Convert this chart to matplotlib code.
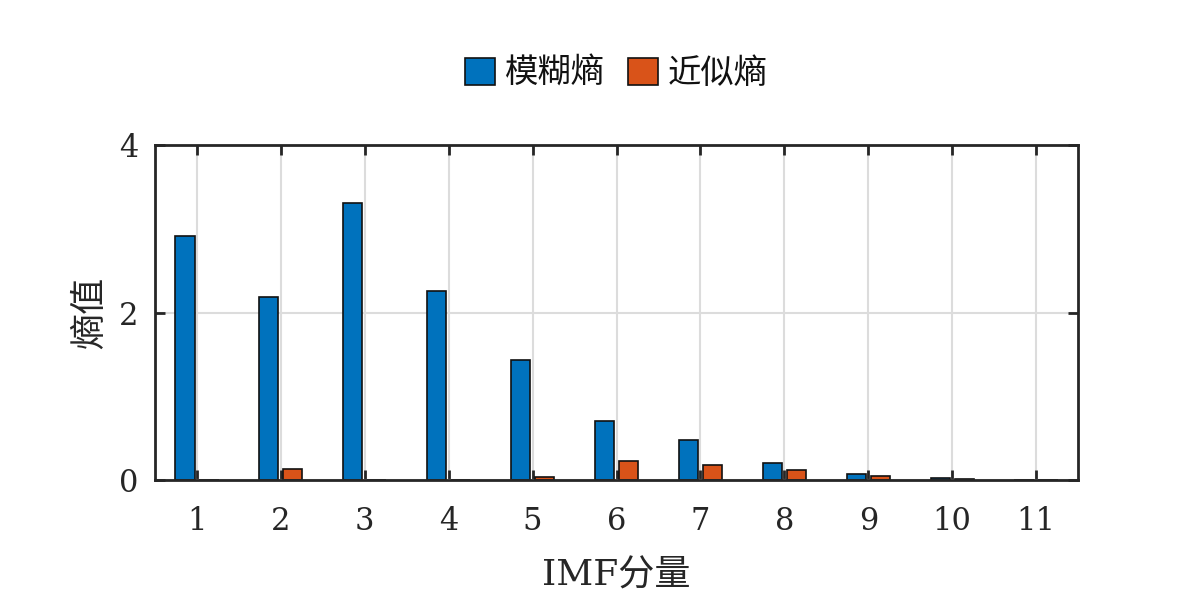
import numpy as np
import matplotlib
matplotlib.use("Agg")
import matplotlib.pyplot as plt

plt.rcParams['font.family'] = ['DejaVu Serif', 'Noto Sans CJK SC']

# data
imf = np.arange(1, 12)
fuzzy_en = [2.91, 2.18, 3.31, 2.26, 1.43, 0.705, 0.475, 0.205, 0.068, 0.02, 0.005]
approx_en = [0.0, 0.128, 0.0, 0.0, 0.04, 0.23, 0.175, 0.115, 0.045, 0.01, 0.0]
series_names = ['模糊熵', '近似熵']
tick_labels = [str(i) for i in imf]

BLUE = '#0072BD'
ORANGE = '#D95319'

fig = plt.figure(figsize=(11.92, 5.96), dpi=100)
ax = fig.add_axes([0.130, 0.1946, 0.7744, 0.5621])

# MATLAB-style grouped bars: offsets +-0.143, width 0.229
off = 0.143
w = 0.229
ax.bar(imf - off, fuzzy_en, w, color=BLUE, edgecolor='#111111', linewidth=1.2,
       label=series_names[0], zorder=3)
ax.bar(imf + off, approx_en, w, color=ORANGE, edgecolor='#111111', linewidth=1.2,
       label=series_names[1], zorder=3)

ax.set_xlim(0.5, 11.5)
ax.set_ylim(0, 4)
ax.set_xticks(imf)
ax.set_xticklabels(tick_labels)
ax.set_yticks([0, 2, 4])

ax.grid(True, color='#dcdcdc', linewidth=1.5, zorder=0)
ax.set_axisbelow(True)
ax.tick_params(direction='in', length=7, width=2, colors='#262626',
               top=True, right=True, labelsize=22)
ax.tick_params(axis='x', pad=19)
ax.tick_params(axis='y', pad=12)
for side in ax.spines.values():
    side.set_linewidth(2)
    side.set_color('#262626')
    side.set_zorder(5)

ax.set_xlabel('IMF分量', fontsize=26, color='#262626', labelpad=15)
ax.set_ylabel('熵值', fontsize=26, color='#262626', labelpad=8)

leg = ax.legend(loc='lower center', bbox_to_anchor=(0.5, 1.075), ncol=2,
                frameon=False, fontsize=24, handlelength=0.9, handleheight=0.9,
                handletextpad=0.3, columnspacing=0.7)
for txt in leg.get_texts():
    txt.set_color('#111111')

fig.savefig('out.png', dpi=100)
plt.close(fig)
